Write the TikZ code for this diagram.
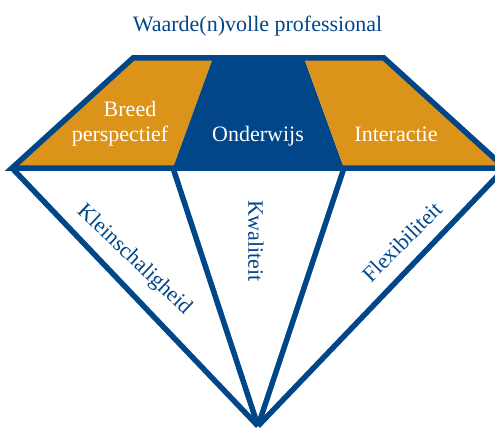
\documentclass[tikz,border=0pt]{standalone}
\usepackage{fontspec}
\setmainfont{Liberation Serif}
\definecolor{dblue}{HTML}{02468A}
\definecolor{gold}{HTML}{DC931A}
\begin{document}
\begin{tikzpicture}[x=1pt,y=-1pt,
  edge/.style={draw=dblue,line width=5.5pt,line join=miter},
  lbl/.style={font=\fontsize{22}{26}\selectfont,inner sep=0pt},
  wlbl/.style={lbl,text=white,anchor=base},
  blbl/.style={lbl,text=dblue}]
\useasboundingbox (0,0) rectangle (495,428);
\coordinate (TL) at (133,58);
\coordinate (A) at (213,58);
\coordinate (B) at (304,58);
\coordinate (TR) at (384,58);
\coordinate (L) at (12,168);
\coordinate (C) at (173,168);
\coordinate (D) at (344,168);
\coordinate (R) at (505,168);
\coordinate (Bot) at (258,426);
\fill[gold] (TL) -- (A) -- (C) -- (L) -- cycle;
\fill[dblue] (A) -- (B) -- (D) -- (C) -- cycle;
\fill[gold] (B) -- (TR) -- (R) -- (D) -- cycle;
\draw[edge] (L) -- (TL) -- (TR) -- (R) -- cycle;
\draw[edge] (L) -- (Bot);
\draw[edge] (C) -- (Bot);
\draw[edge] (D) -- (Bot);
\draw[edge] (R) -- (Bot);
\node[blbl,anchor=base] (title) at (257.5,31.5) {Waarde(n)volle professional};
\node[wlbl] (breed) at (130,116) {Breed};
\node[wlbl] (persp) at (120,141.5) {perspectief};
\node[wlbl] (ond) at (258,141.5) {Onderwijs};
\node[wlbl] (inter) at (396,141.5) {Interactie};
\node[blbl,rotate=-43.5] (klein) at (134,260) {Kleinschaligheid};
\node[blbl,rotate=-90] (kwal) at (256,241) {Kwaliteit};
\node[blbl,rotate=45] (flex) at (402,242) {Flexibiliteit};
\end{tikzpicture}
\end{document}
